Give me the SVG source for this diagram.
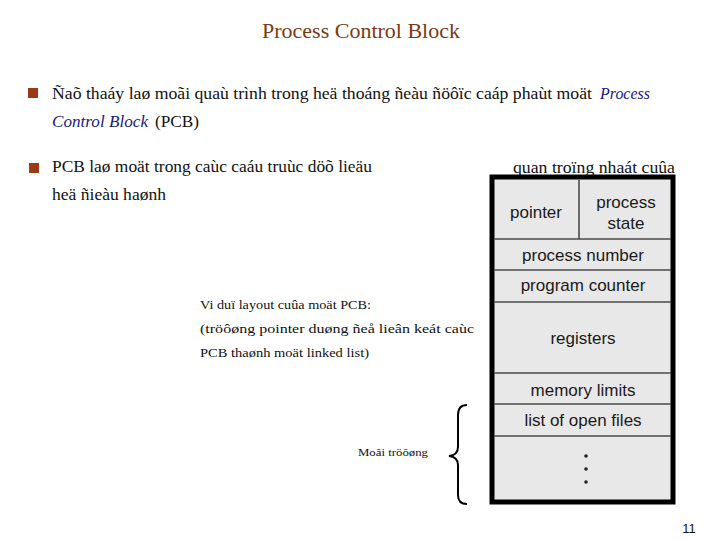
<svg xmlns="http://www.w3.org/2000/svg" width="720" height="540" viewBox="0 0 720 540">
<style>
.t{font-family:"Liberation Serif","DejaVu Serif",serif;fill:#111;}
.b{font-size:17px;}
.it{font-style:italic;fill:#1a1a7a;}
.f{font-family:"Liberation Sans",Arial,sans-serif;font-size:17px;fill:#1a1a1a;text-anchor:middle;}
.div{stroke:#4a4a4a;stroke-width:1.6;fill:none;}
.sq{fill:#9b3a17;}
.n{font-size:13px;}
</style>
<rect width="720" height="540" fill="#ffffff"/>
<g id="title">
<text class="t" x="361" y="38" font-size="22" fill="#7a3a12" style="fill:#7a3a12" text-anchor="middle">Process Control Block</text>
</g>
<g id="bullet1">
<rect class="sq" x="28" y="88" width="10" height="10"/>
<text class="t b" x="52" y="99" textLength="540" lengthAdjust="spacingAndGlyphs">Ñaõ thaáy laø moãi quaù trình trong heä thoáng ñeàu ñöôïc caáp phaùt moät</text>
<text class="t b it" x="600" y="99" textLength="50" lengthAdjust="spacingAndGlyphs">Process</text>
<text class="t b it" x="52" y="127" textLength="96" lengthAdjust="spacingAndGlyphs">Control Block</text>
<text class="t b" x="155" y="127" textLength="44" lengthAdjust="spacingAndGlyphs">(PCB)</text>
</g>
<g id="bullet2">
<rect class="sq" x="29" y="163" width="10" height="10"/>
<text class="t b" x="52" y="172" textLength="320" lengthAdjust="spacingAndGlyphs">PCB laø moät trong caùc caáu truùc döõ lieäu</text>
<text class="t b" x="513" y="173" textLength="162" lengthAdjust="spacingAndGlyphs">quan troïng nhaát cuûa</text>
<text class="t b" x="52" y="200" textLength="114" lengthAdjust="spacingAndGlyphs">heä ñieàu haønh</text>
</g>
<g id="pcb">
<rect x="492" y="177" width="181" height="325" fill="#e9e8e8" stroke="#000" stroke-width="5"/>
<g id="field-pointer">
<line class="div" x1="579" y1="180" x2="579" y2="239"/>
<text class="f" x="536" y="218">pointer</text>
</g>
<g id="field-state">
<text class="f" x="626" y="208">process</text>
<text class="f" x="626" y="229">state</text>
</g>
<g id="field-number">
<line class="div" x1="494" y1="239" x2="671" y2="239"/>
<text class="f" x="583" y="261">process number</text>
</g>
<g id="field-counter">
<line class="div" x1="494" y1="270" x2="671" y2="270"/>
<text class="f" x="583" y="291">program counter</text>
</g>
<g id="field-registers">
<line class="div" x1="494" y1="302" x2="671" y2="302"/>
<text class="f" x="583" y="344">registers</text>
</g>
<g id="field-memory">
<line class="div" x1="494" y1="373" x2="671" y2="373"/>
<text class="f" x="583" y="396">memory limits</text>
</g>
<g id="field-files">
<line class="div" x1="494" y1="404" x2="671" y2="404"/>
<text class="f" x="583" y="426">list of open files</text>
</g>
<g id="field-more">
<line class="div" x1="494" y1="436" x2="671" y2="436"/>
<circle cx="586" cy="456" r="1.8" fill="#222"/>
<circle cx="586" cy="469" r="1.8" fill="#222"/>
<circle cx="586" cy="482" r="1.8" fill="#222"/>
</g>
</g>
<g id="note">
<text class="t n" x="200" y="309" textLength="171" lengthAdjust="spacingAndGlyphs">Vi duï layout cuûa moät PCB:</text>
<text class="t n" x="200" y="333" textLength="274" lengthAdjust="spacingAndGlyphs">(tröôøng pointer duøng ñeå lieân keát caùc</text>
<text class="t n" x="200" y="357" textLength="169" lengthAdjust="spacingAndGlyphs">PCB thaønh moät linked list)</text>
</g>
<g id="env">
<text class="t" x="358" y="456" font-size="11" textLength="70" lengthAdjust="spacingAndGlyphs">Moâi tröôøng</text>
</g>
<g id="connectors">
<path d="M467,405 Q458,405 458,415 L458,447 Q458,455 449,456 Q458,457 458,465 L458,495 Q458,504 467,504" fill="none" stroke="#000" stroke-width="2"/>
</g>
<g id="page">
<text x="689" y="533" font-family="Liberation Sans,Arial,sans-serif" font-size="13" fill="#111" text-anchor="middle">11</text>
</g>
</svg>
